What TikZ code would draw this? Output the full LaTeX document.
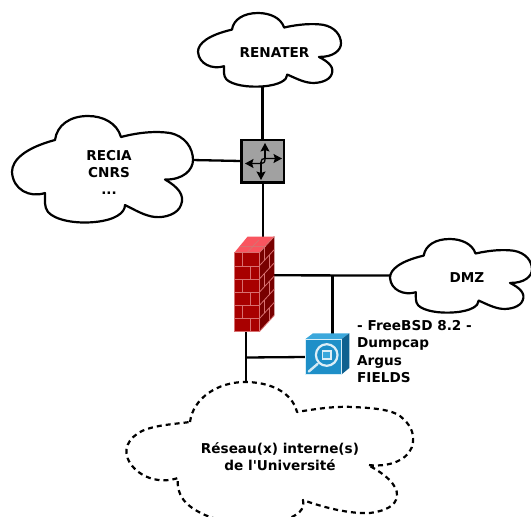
\documentclass[tikz,border=0pt]{standalone}
\usepackage{fontspec}
\setmainfont{DejaVu Sans}[Ligatures=TeXOff]
\usetikzlibrary{arrows.meta}
\definecolor{brickfront}{HTML}{A80000}
\definecolor{bricktop}{HTML}{F9555F}
\definecolor{brickside}{HTML}{780000}
\definecolor{mortar}{HTML}{D87070}
\definecolor{probefront}{HTML}{1E8FC8}
\definecolor{probetop}{HTML}{3BA8DC}
\definecolor{probeside}{HTML}{0F6190}
\tikzset{
  wire/.style={line width=2.3pt,black},
  cloudline/.style={line width=2.2pt,black,fill=white,line join=round},
  lbl/.style={font=\fontsize{13.6}{17.2}\selectfont\bfseries,align=center,inner sep=0pt},
  lblleft/.style={font=\fontsize{13.6}{17.2}\selectfont\bfseries,align=left,inner sep=0pt},
  box/.style={inner sep=0pt,outer sep=0pt,rectangle},
  swarrow/.style={line width=1.3pt,-{Stealth[length=8.5pt,width=9pt,inset=1.5pt]}},
  brick/.style={line width=0.8pt,mortar}
}
\newcommand{\mycloud}[5]{%
  \pgfmathsetmacro{\sx}{(#3-#1)/181}%
  \pgfmathsetmacro{\sy}{(#4-#2)/107}%
  \pgfmathsetmacro{\ox}{#1-12*\sx}%
  \pgfmathsetmacro{\oy}{#2-116*\sy}%
  \begin{scope}[shift={(\ox,\oy)},xscale=\sx,yscale=\sy]
  \path[cloudline,#5] (55,140) .. controls (57,125) and (70,116) .. (88,116)
    .. controls (103,116) and (117,123) .. (121,137)
    .. controls (140,132) and (157,131) .. (170,133)
    .. controls (185,136) and (193,148) .. (193,160)
    .. controls (193,170) and (183,180) .. (165,179.5)
    .. controls (178,187) and (185,195) .. (181,205)
    .. controls (178,214) and (165,218) .. (155,217)
    .. controls (145,216) and (135,210) .. (125,205)
    .. controls (125,213) and (115,220) .. (95,222)
    .. controls (75,224) and (55,220) .. (48,212)
    .. controls (44,207) and (45,200) .. (45,193)
    .. controls (30,198) and (13,190) .. (12,172)
    .. controls (12,160) and (25,148) .. (55,140) -- cycle;
  \end{scope}}
\begin{document}
\begin{tikzpicture}[x=1pt,y=-1pt]
\useasboundingbox (0,0) rectangle (531,517);
\fill[white] (0,0) rectangle (531,517);
% named ports and boxes
\node[box,minimum width=44pt,minimum height=43pt] (router) at (262.8,161) {};
\node[box,minimum width=40pt,minimum height=95pt] (firewall) at (254.3,284.2) {};
\node[box,minimum width=44pt,minimum height=41pt] (probe) at (327.2,353.7) {};
\coordinate (renaterport) at (262.5,87);
\coordinate (reciaport) at (192,160);
\coordinate (dmzport) at (390.5,275.5);
\coordinate (internalport) at (246,384);
\coordinate (fwright) at (274,275.3);
\coordinate (fwup) at (263,237);
\coordinate (fwdown) at (246,331);
\coordinate (tap) at (246,357.5);
\coordinate (split) at (332.5,275.4);
\coordinate (probetopc) at (332.5,334);
\coordinate (probeleft) at (306,357);
% connectors
\draw[wire] (renaterport) -- (router.north -| renaterport);
\draw[wire] (reciaport) -- (router.west);
\draw[wire] (router.south -| fwup) -- (fwup);
\draw[wire] (fwright) -- (dmzport);
\draw[wire] (split) -- (probetopc);
\draw[wire] (fwdown) -- (internalport);
\draw[wire] (tap) -- (probeleft);
% clouds
\mycloud{198}{13}{341}{87}{draw}
\mycloud{12}{116}{193}{223}{draw}
\mycloud{390}{239}{532}{313}{draw}
\path[cloudline,draw,dash pattern=on 5pt off 4pt]
  (190,422) .. controls (193,398) and (218,382) .. (245,382)
  .. controls (270,382) and (292,392) .. (297,412)
  .. controls (315,409) and (335,406) .. (353,407)
  .. controls (375,408) and (392,410) .. (400,416)
  .. controls (410,424) and (414,432) .. (413,442)
  .. controls (412,456) and (395,468) .. (368,465)
  .. controls (385,474) and (398,485) .. (397,496)
  .. controls (396,506) and (385,511) .. (370,513)
  .. controls (350,514) and (325,508) .. (303,500)
  .. controls (305,510) and (298,515) .. (285,520)
  .. controls (265,526) and (225,524) .. (205,515)
  .. controls (185,506) and (176,495) .. (178,478)
  .. controls (160,484) and (140,478) .. (130,463)
  .. controls (122,450) and (128,438) .. (142,431)
  .. controls (155,425) and (175,424) .. (190,422) -- cycle;
\node[lbl] (renater) at (274.5,52.5) {RENATER};
\node[lbl] (recia) at (109,172.5) {RECIA\\CNRS\\...};
\node[lbl] (dmz) at (467,277.5) {DMZ};
\node[lbl] (internal) at (280,456.5) {Réseau(x) interne(s)\\de l'Université};
\node[lblleft,anchor=west] (probetext) at (357,351.5) {- FreeBSD 8.2 -\\Dumpcap\\Argus\\FIELDS};
% router
\draw[line width=2.3pt,fill=black!37] (241.5,140.3) rectangle (284,182.5);
\draw[swarrow] (261,162) .. controls (261,159.5) and (262.5,158.5) .. (265,158.5) -- (282,158.5);
\draw[swarrow] (261,162) -- (261,180);
\draw[swarrow] (265,159) .. controls (265,162.5) and (263.5,163.5) .. (261,163.5) -- (245,163.5);
\draw[swarrow] (265,159) -- (265,143);
% firewall
\fill[brickfront] (234.3,252.7) rectangle (259.3,331.7);
\fill[bricktop] (234.3,252.7) -- (247.5,236.7) -- (274.3,236.7) -- (259.3,252.7) -- cycle;
\fill[brickside] (259.3,252.7) -- (274.3,236.7) -- (274.3,315) -- (259.3,331.7) -- cycle;
\foreach \yy in {252.7,265.9,279.1,292.3,305.5,318.7,331.7}{
  \draw[brick] (234.3,\yy) -- (259.3,\yy);
  \draw[brick] (259.3,\yy) -- (274.3,\yy-16.3);}
\foreach \yy in {252.7,279.1,305.5}{
  \draw[brick] (242.7,\yy) -- (242.7,\yy+13.2);
  \draw[brick] (250.7,\yy+13.2) -- (250.7,\yy+26.4);
  \draw[brick] (264.5,\yy-5.5) -- (264.5,\yy+7.7);
  \draw[brick] (269.5,\yy+2.5) -- (269.5,\yy+15.7);}
\draw[brick] (234.3,252.7) -- (234.3,331.7) -- (259.3,331.7) -- (259.3,252.7);
\draw[brick] (240,246) -- (266,246);
\draw[brick] (247,252.7) -- (254,245.5);
\draw[brick] (253,246) -- (259,240);
% probe
\fill[probefront] (305.5,339) rectangle (341.7,374.3);
\fill[probetop] (305.5,339) -- (313,333.3) -- (349.3,333.3) -- (341.7,339) -- cycle;
\fill[probeside] (341.7,339) -- (349.3,333.3) -- (349.3,368) -- (341.7,374.3) -- cycle;
\draw[white!80!probetop,line width=0.5pt] (305.5,374.3) -- (305.5,339) -- (341.7,339) -- (341.7,374.3) -- cycle;
\draw[white!80!probefront,line width=2.4pt,line cap=round] (317.5,364) -- (308.8,371.5);
\draw[white!85!probefront,line width=2.2pt,fill=probefront] (326.7,355) circle (10.8);
\draw[white!85!probefront,line width=1.5pt,fill=probetop] (322.6,350.8) rectangle (331,359.2);
\end{tikzpicture}
\end{document}
